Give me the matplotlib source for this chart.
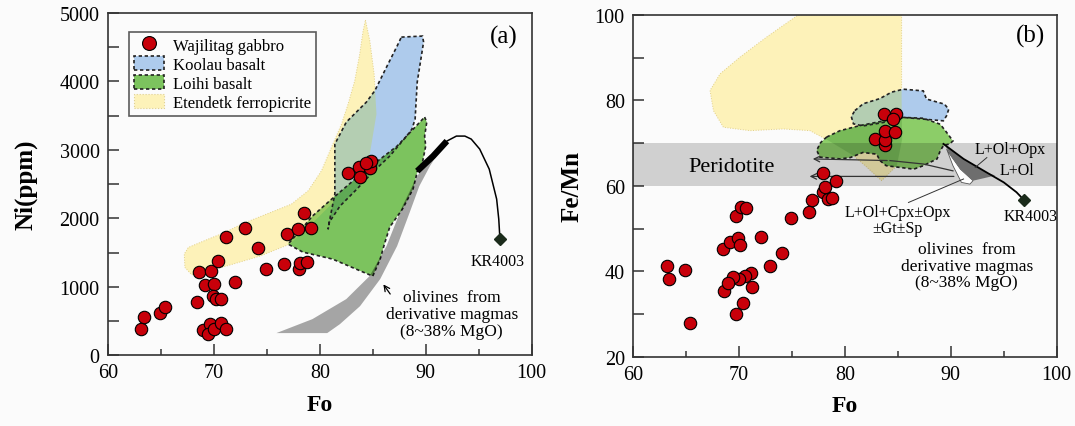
import matplotlib.pyplot as plt
import numpy as np
from matplotlib.patches import Polygon, Patch
from matplotlib.lines import Line2D
from matplotlib.ticker import MultipleLocator

plt.rcParams['font.family'] = ['Liberation Serif', 'DejaVu Serif']

# ---------------- panel (a): Fo vs Ni(ppm) ----------------
fo_a = [63.1, 63.4, 64.9, 65.4, 68.4, 68.6, 69.7, 70.4, 71.1, 72.9, 74.2, 74.9, 72.0,
        69.2, 70.0, 69.9, 70.2, 70.7, 69.0, 69.6, 69.4, 70.0, 70.7, 71.1,
        76.9, 77.9, 78.5, 79.2, 76.6, 78.0, 78.1, 78.8,
        82.7, 83.7, 83.8, 84.7, 84.8, 84.4]
ni_a = [380, 551, 614, 697, 770, 1218, 1233, 1379, 1730, 1862, 1560, 1257, 1072,
        1023, 1033, 867, 819, 819, 365, 453, 307, 380, 463, 380,
        1764, 1842, 2071, 1862, 1330, 1257, 1340, 1364,
        2656, 2744, 2607, 2729, 2831, 2802]

etendetk_a = [(84.31, 4898), (84.72, 4596), (85.13, 4108), (85.35, 3523), (85.19, 3377),
              (84.72, 2939), (83.30, 2598), (81.42, 2256), (78.90, 1867), (77.17, 1623),
              (74.34, 1447), (71.79, 1330), (69.62, 1233), (67.9, 1174), (67.26, 1282),
              (67.2, 1477), (67.58, 1574), (69.46, 1696), (71.04, 1794), (72.61, 1915),
              (74.18, 2013), (75.75, 2110), (77.33, 2208), (78.90, 2402), (80.16, 2695),
              (81.10, 3037), (82.05, 3377), (82.67, 3670), (83.30, 4010), (83.77, 4401),
              (84.09, 4742)]
koolau_a = [(87.7, 4649), (89.7, 4664), (89.8, 4576), (89.2, 3991), (89.0, 3450),
            (88.7, 3304), (88.2, 3202), (86.6, 2909), (85.0, 2675), (83.5, 2427),
            (81.9, 2178), (80.9, 1944), (80.78, 1840), (81.0, 2032), (81.42, 2354),
            (81.42, 3085), (82.5, 3406), (84.4, 3699), (85.19, 3864), (86.44, 4254),
            (87.3, 4518)]
loihi_a = [(89.9, 3480), (90.1, 3406), (89.9, 3202), (90.0, 3056), (89.7, 2822),
           (89.2, 2675), (88.8, 2427), (87.8, 2135), (86.6, 1871), (86.1, 1623),
           (85.7, 1404), (85.0, 1155), (84.1, 1213), (81.2, 1404), (78.4, 1506),
           (77.0, 1623), (78.1, 1813), (79.3, 2032), (80.9, 2251), (84.1, 2675),
           (87.3, 3056)]
derivative_a = [(75.9, 322), (79.3, 526), (82.5, 819), (84.7, 1155), (86.3, 1594),
                (87.8, 2178), (89.2, 2617), (90.2, 2822), (91.0, 2909), (90.4, 2763),
                (89.4, 2471), (88.5, 2091), (87.3, 1594), (85.7, 1111), (83.8, 716),
                (81.9, 453), (80.7, 322)]
kr_curve_fo_a = [89.2, 90.7, 92.0, 92.9, 93.7, 94.3, 95.1, 96.0, 96.7, 96.9, 97.0]
kr_curve_ni_a = [2690, 2909, 3129, 3202, 3202, 3158, 3012, 2719, 2281, 1988, 1725]
kr4003_a = (97.0, 1700)

# ---------------- panel (b): Fo vs Fe/Mn ----------------
fo_b = [63.2, 63.4, 64.9, 65.4, 68.5, 68.6, 69.1, 69.9, 70.1, 69.7, 70.2, 70.7, 72.1,
        74.1, 72.9, 71.1, 70.6, 70.0, 69.4, 69.0, 71.2, 70.4, 69.7,
        74.9, 76.6, 76.9, 77.9, 78.4, 78.8, 78.1, 77.9, 79.2,
        82.8, 83.8, 83.8, 83.8, 84.7, 83.7, 84.8, 84.5]
femn_b = [41.3, 38.2, 40.4, 27.9, 45.2, 35.4, 46.9, 47.7, 46.2, 53.0, 55.1, 54.9, 48.1,
          44.3, 41.2, 39.7, 39.0, 38.2, 38.6, 37.3, 36.4, 32.6, 30.0,
          52.5, 53.9, 56.7, 58.5, 56.9, 57.1, 59.8, 62.9, 61.1,
          70.9, 69.6, 70.6, 72.9, 72.6, 76.9, 76.9, 75.6]

etendetk_b = [(75.6, 100), (85.35, 100), (85.35, 80.0), (85.4, 70.9), (84.9, 64.7),
              (83.46, 61.2), (82.0, 64.5), (80.78, 67.1), (78.5, 70.5), (76.7, 72.9),
              (74.18, 73.3), (71.04, 72.9), (68.52, 73.7), (67.58, 77.6), (67.26, 82.3),
              (68.21, 86.2), (70.09, 90.1), (72.61, 94.8)]
koolau_b = [(80.94, 77.6), (81.73, 79.2), (83.3, 80.4), (84.4, 81.9), (85.5, 82.6),
            (87.4, 82.2), (87.7, 80.3), (89.4, 79.1), (89.8, 77.9), (89.6, 76.4),
            (89.3, 75.2), (87.4, 75.6), (85.5, 76.0), (83.6, 74.8), (81.7, 74.0),
            (80.8, 74.5), (80.6, 76.2)]
loihi_b = [(78.27, 71.4), (79.53, 72.9), (81.42, 74.1), (83.9, 75.3), (85.5, 76.0),
           (87.4, 75.8), (89.0, 74.4), (89.6, 72.5), (90.2, 70.5), (89.9, 69.8),
           (89.3, 69.4), (89.0, 68.2), (88.7, 66.3), (87.4, 64.7), (86.5, 63.9),
           (85.2, 64.3), (83.9, 64.7), (83.3, 65.9), (83.0, 67.4), (81.7, 67.8),
           (80.5, 66.6), (79.53, 66.3), (77.64, 66.7), (77.33, 68.3), (77.7, 70.1)]
peridotite_b = (60, 70)
l_ol_opx_b = [(89.45, 69.5), (91.2, 66.3), (93.4, 63.1), (94.2, 62.4), (92.1, 61.2),
              (90.9, 63.9), (89.9, 67.4)]
l_ol_cpx_b = [(89.6, 68.6), (90.2, 64.7), (91.0, 60.8), (91.8, 60.4), (92.1, 61.2),
              (90.9, 63.9), (89.9, 67.4)]
kr_curve_fo_b = [89.3, 91.2, 93.4, 95.0, 96.2, 96.9]
kr_curve_femn_b = [69.8, 66.3, 63.1, 60.8, 58.5, 56.7]
kr4003_b = (96.9, 56.7)
upper_path_b = [(90.2, 63.5), (87.4, 65.1), (84.25, 65.9), (76.7, 66.3)]
lower_path_b = [(90.55, 62.2), (76.4, 62.2)]

red = '#c8000a'
blue = '#aecbec'
green = '#7cc35e'
yellow = '#fdf2b9'
dash = (0, (2, 1.6))

fig = plt.figure(figsize=(10.75, 4.27), dpi=100, facecolor='#fbfbfb')
ax1 = fig.add_axes([0.1005, 0.166, 0.394, 0.801])
ax2 = fig.add_axes([0.589, 0.162, 0.394, 0.801])


def style_axes(ax):
    ax.set_facecolor('#fbfbfb')
    for s in ax.spines.values():
        s.set_linewidth(1.2)
        s.set_color('#333333')
    ax.tick_params(which='both', direction='in', top=False, right=False,
                   labelsize=14.5, width=1.1, color='#333333', pad=6)
    ax.tick_params(which='major', length=8)
    ax.tick_params(which='minor', length=4.5)
    ax.set_xlim(60, 100)
    ax.xaxis.set_major_locator(MultipleLocator(10))
    ax.xaxis.set_minor_locator(MultipleLocator(5))
    ax.set_xlabel('Fo', fontsize=17, fontweight='bold', labelpad=8)


def overlap(ax, poly, clip_poly, color, z):
    # part of poly lying inside clip_poly, drawn in a mixed colour
    clip = Polygon(clip_poly, closed=True, transform=ax.transData)
    p = Polygon(poly, closed=True, fc=color, ec='none', zorder=z)
    ax.add_patch(p)
    p.set_clip_path(clip)


def fields(ax, etendetk, koolau, loihi, c_ky, c_l, c_ly, c_lk):
    ax.add_patch(Polygon(etendetk, closed=True, fc=yellow, ec='#e2d08a', lw=0.7, ls=':', zorder=1))
    ax.add_patch(Polygon(koolau, closed=True, fc=blue, ec='none', zorder=2))
    overlap(ax, koolau, etendetk, c_ky, 2.05)
    ax.add_patch(Polygon(loihi, closed=True, fc=c_l, ec='none', zorder=2.2))
    overlap(ax, loihi, etendetk, c_ly, 2.25)
    overlap(ax, loihi, koolau, c_lk, 2.3)
    for poly in (koolau, loihi):
        ax.add_patch(Polygon(poly, closed=True, fill=False, ec='#222222', lw=1.2, ls=dash, zorder=2.5))


# ---- (a)
style_axes(ax1)
ax1.set_ylim(0, 5000)
ax1.yaxis.set_major_locator(MultipleLocator(1000))
ax1.yaxis.set_minor_locator(MultipleLocator(500))
ax1.tick_params(axis='y', which='minor', length=8)
ax1.set_ylabel('Ni(ppm)', fontsize=18, fontweight='bold', labelpad=16)

fields(ax1, etendetk_a, koolau_a, loihi_a, '#b4ceb2', green, '#98cb62', '#5fa955')
ax1.add_patch(Polygon(derivative_a, closed=True, fc='#000000', alpha=0.34, ec='none', zorder=3))
ax1.plot(kr_curve_fo_a, kr_curve_ni_a, color='k', lw=1.1, zorder=4)
ax1.plot(kr_curve_fo_a[:3], kr_curve_ni_a[:3], color='k', lw=4.5, solid_capstyle='butt', zorder=4)
ax1.plot(*kr4003_a, marker='D', ms=6, color='#1b2b1b', zorder=4)
ax1.scatter(fo_a, ni_a, s=80, c=red, edgecolors='k', linewidths=0.8, zorder=5)

ax1.text(96.8, 1374, 'KR4003', fontsize=11.5, ha='center', va='center')
ax1.text(92.45, 600, 'olivines  from\nderivative magmas\n(8~38% MgO)', fontsize=12.5,
         ha='center', va='center', linespacing=1.05)
ax1.annotate('', xy=(85.85, 1067), xytext=(86.8, 860),
             arrowprops=dict(arrowstyle='->', lw=0.9, color='k'))
ax1.text(0.934, 0.933, '(a)', transform=ax1.transAxes, fontsize=18, ha='center', va='center')

handles = [
    Line2D([], [], ls='none', marker='o', ms=10, mfc=red, mec='k', mew=0.8),
    Patch(fc=blue, ec='#222222', lw=1.2, ls=dash),
    Patch(fc=green, ec='#222222', lw=1.2, ls=dash),
    Patch(fc=yellow, ec='#e0d090', lw=0.8, ls=':'),
]
labels = ['Wajilitag gabbro', 'Koolau basalt', 'Loihi basalt', 'Etendetk ferropicrite']
leg = ax1.legend(handles, labels, loc='upper left', bbox_to_anchor=(0.05, 0.945),
                 borderaxespad=0, fontsize=12, frameon=True, fancybox=False,
                 edgecolor='#333333', handlelength=1.8, handleheight=0.9,
                 handletextpad=0.5, labelspacing=0.14, borderpad=0.3)
leg.get_frame().set_linewidth(1.2)
leg.get_frame().set_facecolor('#fbfbfb')
leg.set_zorder(6)

# ---- (b)
style_axes(ax2)
ax2.set_ylim(20, 100)
ax2.yaxis.set_major_locator(MultipleLocator(20))
ax2.yaxis.set_minor_locator(MultipleLocator(10))
ax2.tick_params(axis='y', which='minor', length=8)
ax2.set_ylabel('Fe/Mn', fontsize=18, fontweight='bold', labelpad=8)

fields(ax2, etendetk_b, koolau_b, loihi_b, '#b4ceb2', '#8ccd68', '#78ba58', '#5fa955')
ax2.axhspan(*peridotite_b, color='k', alpha=0.17, lw=0, zorder=3)
ax2.add_patch(Polygon(l_ol_cpx_b, closed=True, fc='white', ec='#555555', lw=0.6, zorder=3.5))
ax2.add_patch(Polygon(l_ol_opx_b, closed=True, fc='#6e6e6e', ec='none', zorder=3.6))

up = np.array(upper_path_b)
ax2.plot(up[:-1, 0], up[:-1, 1], color='#333333', lw=0.9, zorder=3.7)
ax2.annotate('', xy=tuple(up[-1]), xytext=tuple(up[-2]),
             arrowprops=dict(arrowstyle='->', lw=0.9, color='#333333'), zorder=3.7)
ax2.annotate('', xy=lower_path_b[1], xytext=lower_path_b[0],
             arrowprops=dict(arrowstyle='->', lw=0.9, color='#333333'), zorder=3.7)
ax2.plot(kr_curve_fo_b, kr_curve_femn_b, color='k', lw=1.3, zorder=4)
ax2.plot(*kr4003_b, marker='D', ms=6, color='#1b2b1b', zorder=4)
ax2.scatter(fo_b, femn_b, s=80, c=red, edgecolors='k', linewidths=0.8, zorder=5)

ax2.text(69.3, 64.6, 'Peridotite', fontsize=16, ha='center', va='center', zorder=6)
ax2.text(95.6, 68.5, 'L+Ol+Opx', fontsize=11.5, ha='center', va='center')
ax2.text(96.2, 63.6, 'L+Ol', fontsize=11.5, ha='center', va='center')
ax2.plot([92.3, 93.4], [64.3, 66.6], color='#333333', lw=0.7, zorder=4)
ax2.plot([86.0, 91.2], [56.1, 61.6], color='#333333', lw=0.7, zorder=4)
ax2.text(85.0, 51.9, 'L+Ol+Cpx\u00b1Opx\n\u00b1Gt\u00b1Sp', fontsize=11.5, ha='center',
         va='center', linespacing=1.0)
ax2.text(97.5, 53.0, 'KR4003', fontsize=11.5, ha='center', va='center')
ax2.text(91.5, 41.3, 'olivines  from\nderivative magmas\n(8~38% MgO)', fontsize=12.5,
         ha='center', va='center', linespacing=1.05)
ax2.text(0.939, 0.939, '(b)', transform=ax2.transAxes, fontsize=18, ha='center', va='center')

fig.savefig('out.png', dpi=100, facecolor=fig.get_facecolor())
